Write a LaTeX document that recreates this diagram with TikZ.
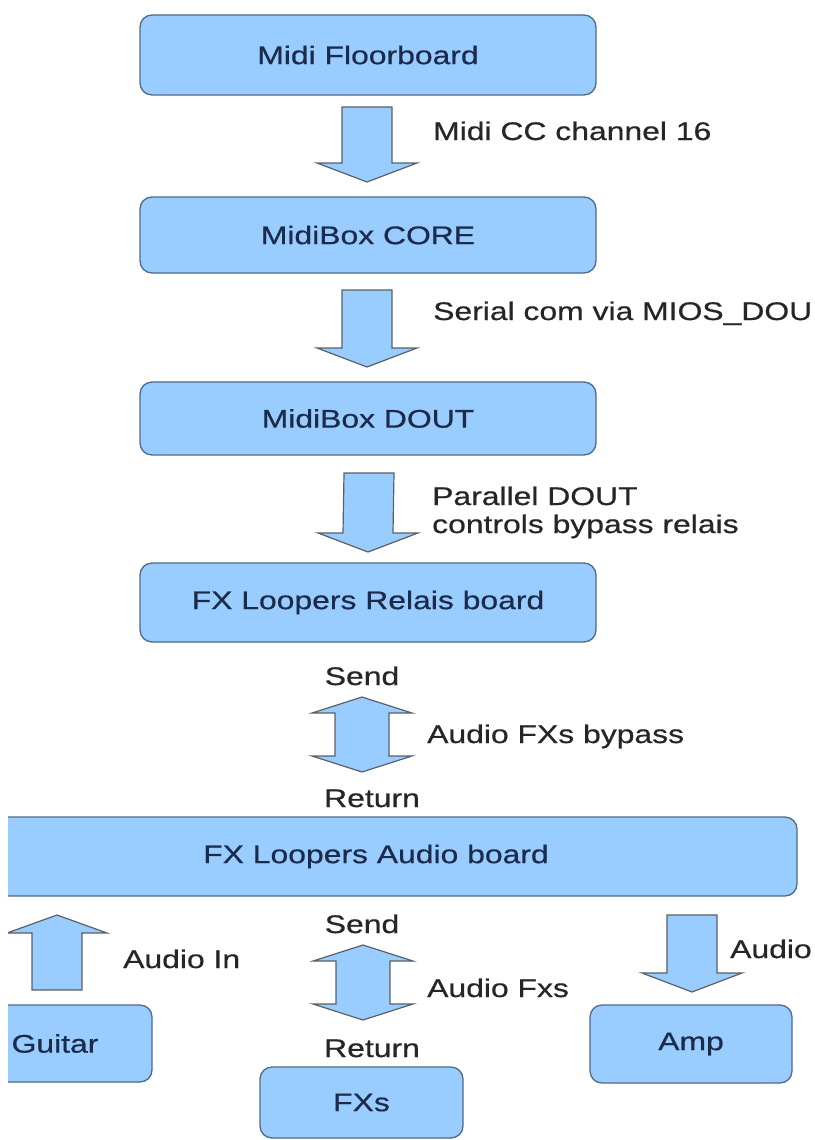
\documentclass[tikz,border=0pt]{standalone}
\usepackage{fontspec}
\setmainfont{Liberation Sans}[FakeStretch=1.25,FakeBold=0.6]
\usetikzlibrary{calc}

\definecolor{boxfill}{HTML}{99CCFF}
\definecolor{boxline}{HTML}{4E6A88}
\definecolor{arrowline}{HTML}{5A6068}
\definecolor{boxtext}{HTML}{1C2B4A}
\definecolor{labeltext}{HTML}{262626}

% block arrows: #1 tail, #2 tip
\newcommand{\flowdown}[2]{%
  \path[flowarrow] ($(#1)+(-25,0)$) -- ($(#1)+(25,0)$) -- ($(#2)+(25,-19)$)
    -- ($(#2)+(50,-19)$) -- (#2) -- ($(#2)+(-50,-19)$) -- ($(#2)+(-25,-19)$) -- cycle;}
\newcommand{\flowup}[2]{%
  \path[flowarrow] ($(#1)+(-25,0)$) -- ($(#1)+(25,0)$) -- ($(#2)+(25,18)$)
    -- ($(#2)+(50,18)$) -- (#2) -- ($(#2)+(-50,18)$) -- ($(#2)+(-25,18)$) -- cycle;}
% two headed: #1 upper tip, #2 lower tip
\newcommand{\flowboth}[2]{%
  \path[flowarrow] (#1) -- ($(#1)+(50,16)$) -- ($(#1)+(27,16)$) -- ($(#2)+(27,-16)$)
    -- ($(#2)+(50,-16)$) -- (#2) -- ($(#2)+(-50,-16)$) -- ($(#2)+(-27,-16)$)
    -- ($(#1)+(-27,16)$) -- ($(#1)+(-50,16)$) -- cycle;}

\begin{document}
\begin{tikzpicture}[x=1pt,y=-1pt,
    unit/.style={draw=boxline,fill=boxfill,line width=1.3pt,rounded corners=12pt,
      text=boxtext,font=\fontsize{25.5}{29}\selectfont,inner sep=0pt},
    flowarrow/.style={draw=arrowline,fill=boxfill,line width=1.2pt,line join=miter},
    lbl/.style={text=labeltext,font=\fontsize{25.5}{29}\selectfont,inner sep=0pt}]
  \useasboundingbox (0,0) rectangle (814,1140);
  \clip (8,0) rectangle (814,1140);

  % midi chain
  \node[unit,minimum width=456pt,minimum height=80pt] (floor) at (368,55) {Midi Floorboard};
  \node[unit,minimum width=456pt,minimum height=76pt] (core) at (368,235) {MidiBox CORE};
  \node[unit,minimum width=456pt,minimum height=73pt] (dout) at (368,418.5) {MidiBox DOUT};
  \node[unit,minimum width=456pt,minimum height=79pt] (relais) at (368,602.5) {FX Loopers Relais board};

  % audio part
  \node[unit,minimum width=842pt,minimum height=79pt] (audio) at (376,856.5) {FX Loopers Audio board};
  \node[unit,minimum width=194pt,minimum height=77pt] (guitar) at (55,1043.5) {Guitar};
  \node[unit,minimum width=203pt,minimum height=71pt] (fxs) at (361.5,1102.5) {FXs};
  \node[unit,minimum width=202pt,minimum height=78pt] (amp) at (691,1044) {Amp};

  % arrow ends
  \coordinate (a1) at (367,107);  \coordinate (b1) at (367,182);
  \coordinate (a2) at (367,290);  \coordinate (b2) at (367,367);
  \coordinate (a3) at (369,473);  \coordinate (b3) at (368,552);
  \coordinate (a4) at (362,697);  \coordinate (b4) at (362,772);
  \coordinate (a5) at (57,990);   \coordinate (b5) at (57,915);
  \coordinate (a6) at (363,945);  \coordinate (b6) at (363,1020);
  \coordinate (a7) at (692,915);  \coordinate (b7) at (692,992);

  \flowdown{a1}{b1}
  \flowdown{a2}{b2}
  \flowdown{a3}{b3}
  \flowboth{a4}{b4}
  \flowup{a5}{b5}
  \flowboth{a6}{b6}
  \flowdown{a7}{b7}

  % labels
  \node[lbl,anchor=base west] (l1) at (433,140) {Midi CC channel 16};
  \node[lbl,anchor=base west] (l2) at (433,320) {Serial com via MIOS\_DOU};
  \node[lbl,anchor=base west] (l3) at (432,505) {Parallel DOUT};
  \node[lbl,anchor=base west] (l4) at (432,533) {controls bypass relais};
  \node[lbl,anchor=base] (send1) at (362,685) {Send};
  \node[lbl,anchor=base west] (l5) at (427,743) {Audio FXs bypass};
  \node[lbl,anchor=base] (ret1) at (372,807) {Return};
  \node[lbl,anchor=base west] (l6) at (123,968) {Audio In};
  \node[lbl,anchor=base] (send2) at (362,933) {Send};
  \node[lbl,anchor=base west] (l7) at (427,997) {Audio Fxs};
  \node[lbl,anchor=base] (ret2) at (372,1057) {Return};
  \node[lbl,anchor=base west] (l8) at (730,958) {Audio};
\end{tikzpicture}
\end{document}
